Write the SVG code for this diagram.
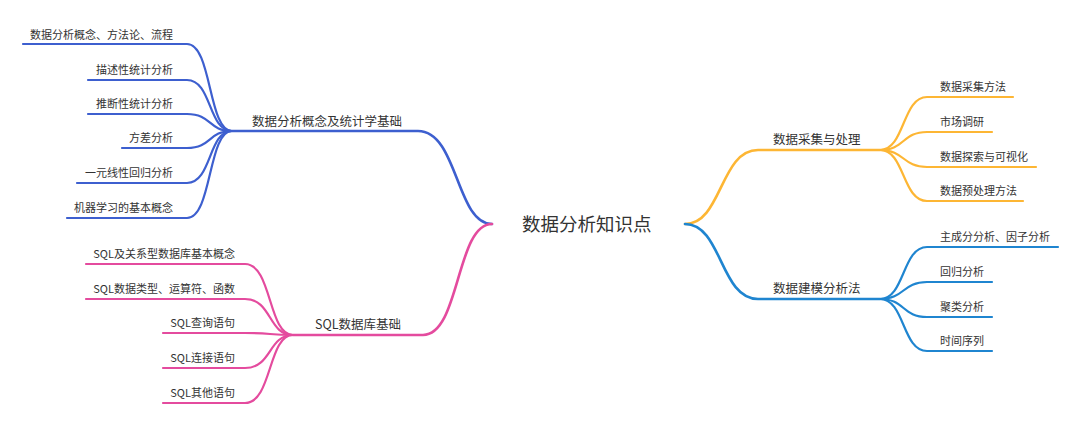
<svg xmlns="http://www.w3.org/2000/svg" width="1080" height="427" viewBox="0 0 1080 427">
<style>
text{font-family:"Noto Sans CJK SC","Noto Sans",sans-serif;fill:#333;}
.leaf{font-size:11px;}
.br{font-size:12.5px;}
.root{font-size:18.5px;}
.c{fill:none;stroke-width:2.2;stroke-linecap:round;}
.b{stroke:#3D5FCF;}
.p{stroke:#E44B9E;}
.y{stroke:#FDB634;}
.r{stroke:#1F85D0;}
.e{text-anchor:end;}
</style>
<rect width="1080" height="427" fill="#fff"/>
<g id="connectors">
<path class="c b" d="M492,224 C456,224 458,131 418,131 L232,131" style="stroke-width:2.6"/>
<path class="c p" d="M492,224 C456,224 460,335 423,335 L293,335" style="stroke-width:2.6"/>
<path class="c y" d="M685,224 C722,224 720,150 758,150 L880,150" style="stroke-width:2.6"/>
<path class="c r" d="M685,224 C722,224 720,299 758,299 L880,299" style="stroke-width:2.6"/>
<path class="c b" d="M232,131 C208,131 212,44 187,44 L23,44"/>
<path class="c b" d="M232,131 C208,131 212,80 187,80 L88,80"/>
<path class="c b" d="M232,131 C208,131 212,114 187,114 L88,114"/>
<path class="c b" d="M232,131 C208,131 212,148 187,148 L122,148"/>
<path class="c b" d="M232,131 C208,131 212,183 187,183 L77,183"/>
<path class="c b" d="M232,131 C208,131 212,218 187,218 L67,218"/>
<path class="c p" d="M293,335 C268,335 272,264 245,264 L86,264"/>
<path class="c p" d="M293,335 C268,335 272,299 245,299 L86,299"/>
<path class="c p" d="M293,335 C268,335 272,333 245,333 L163,333"/>
<path class="c p" d="M293,335 C268,335 272,368 245,368 L163,368"/>
<path class="c p" d="M293,335 C268,335 272,403 245,403 L163,403"/>
<path class="c y" d="M880,150 C905,150 902,97 927,97 L1013,97"/>
<path class="c y" d="M880,150 C905,150 902,132 927,132 L992,132"/>
<path class="c y" d="M880,150 C905,150 902,167 927,167 L1036,167"/>
<path class="c y" d="M880,150 C905,150 902,201 927,201 L1023,201"/>
<path class="c r" d="M880,299 C905,299 902,247 927,247 L1058,247"/>
<path class="c r" d="M880,299 C905,299 902,282 927,282 L992,282"/>
<path class="c r" d="M880,299 C905,299 902,317 927,317 L992,317"/>
<path class="c r" d="M880,299 C905,299 902,351 927,351 L992,351"/>
</g>
<g id="root"><text class="root" x="522" y="231">数据分析知识点</text></g>
<g id="n-stat"><text class="br" x="252" y="126">数据分析概念及统计学基础</text></g>
<g id="n-sql"><text class="br" x="315" y="329">SQL数据库基础</text></g>
<g id="n-collect"><text class="br" x="773" y="144">数据采集与处理</text></g>
<g id="n-model"><text class="br" x="773" y="293">数据建模分析法</text></g>
<g id="l1"><text class="leaf e" x="173" y="39">数据分析概念、方法论、流程</text></g>
<g id="l2"><text class="leaf e" x="173" y="74">描述性统计分析</text></g>
<g id="l3"><text class="leaf e" x="173" y="108">推断性统计分析</text></g>
<g id="l4"><text class="leaf e" x="173" y="142">方差分析</text></g>
<g id="l5"><text class="leaf e" x="173" y="177">一元线性回归分析</text></g>
<g id="l6"><text class="leaf e" x="173" y="212">机器学习的基本概念</text></g>
<g id="s1"><text class="leaf e" x="235" y="258">SQL及关系型数据库基本概念</text></g>
<g id="s2"><text class="leaf e" x="235" y="293">SQL数据类型、运算符、函数</text></g>
<g id="s3"><text class="leaf e" x="235" y="327">SQL查询语句</text></g>
<g id="s4"><text class="leaf e" x="235" y="362">SQL连接语句</text></g>
<g id="s5"><text class="leaf e" x="235" y="397">SQL其他语句</text></g>
<g id="c1"><text class="leaf" x="940" y="91">数据采集方法</text></g>
<g id="c2"><text class="leaf" x="940" y="126">市场调研</text></g>
<g id="c3"><text class="leaf" x="940" y="161">数据探索与可视化</text></g>
<g id="c4"><text class="leaf" x="940" y="195">数据预处理方法</text></g>
<g id="m1"><text class="leaf" x="940" y="241">主成分分析、因子分析</text></g>
<g id="m2"><text class="leaf" x="940" y="276">回归分析</text></g>
<g id="m3"><text class="leaf" x="940" y="311">聚类分析</text></g>
<g id="m4"><text class="leaf" x="940" y="345">时间序列</text></g>
</svg>
